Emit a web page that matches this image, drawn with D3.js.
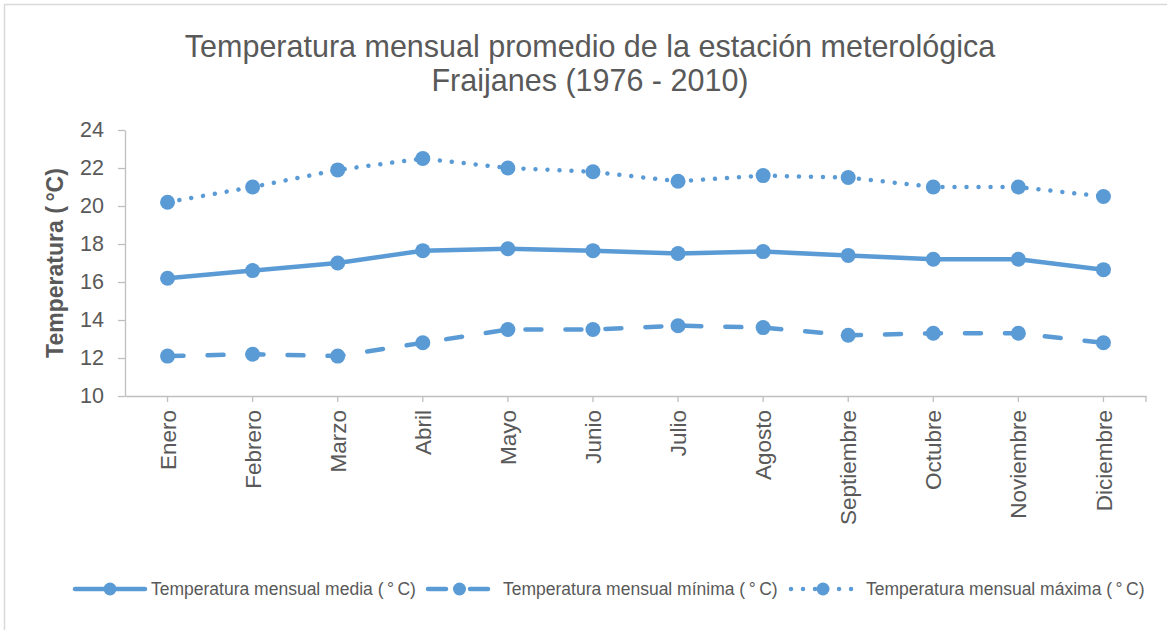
<!DOCTYPE html>
<html lang="es">
  <head>
    <meta charset="UTF-8" />
    <script src="https://cdn.jsdelivr.net/npm/d3@7/dist/d3.min.js"></script>
    <style>
      body {
        margin: 0;
        background: #fff;
        font-family: "Liberation Sans", Arial, sans-serif;
      }
      .axis text {
        fill: #595959;
        font-family: "Liberation Sans", Arial, sans-serif;
      }
      .axis path,
      .axis line {
        stroke: #bfbfbf;
        stroke-width: 1.3px;
      }
    </style>
    <title>Temperatura mensual promedio Fraijanes</title>
  </head>
  <body>
    <div class="canvas"></div>
    <script>
      // datos
      const months = [
        "Enero", "Febrero", "Marzo", "Abril", "Mayo", "Junio",
        "Julio", "Agosto", "Septiembre", "Octubre", "Noviembre", "Diciembre",
      ];
      const tMedia = [16.2, 16.6, 17.0, 17.65, 17.75, 17.65, 17.5, 17.6, 17.4, 17.2, 17.2, 16.65];
      const tMinima = [12.1, 12.2, 12.1, 12.8, 13.5, 13.5, 13.7, 13.6, 13.2, 13.3, 13.3, 12.8];
      const tMaxima = [20.2, 21.0, 21.9, 22.5, 22.0, 21.8, 21.3, 21.6, 21.5, 21.0, 21.0, 20.5];
      const yTicks = [10, 12, 14, 16, 18, 20, 22, 24];
      const seriesNames = [
        "Temperatura mensual media (\u2009°\u2009C)",
        "Temperatura mensual mínima (\u2009°\u2009C)",
        "Temperatura mensual máxima (\u2009°\u2009C)",
      ];

      const W = 1167, H = 630;
      const color = "#5b9bd5";
      const plot = { left: 125, right: 1146, top: 130, bottom: 396 };

      const svg = d3.select(".canvas").append("svg")
        .attr("width", W).attr("height", H);

      // marco del grafico (solo se ven arriba e izquierda)
      svg.append("rect")
        .attr("x", 4.5).attr("y", 4.5)
        .attr("width", W + 20).attr("height", H + 20)
        .attr("fill", "none").attr("stroke", "#d9d9d9").attr("stroke-width", 1.5);

      const x = d3.scaleBand().domain(months).range([plot.left, plot.right]);
      const y = d3.scaleLinear().domain([10, 24]).range([plot.bottom, plot.top]);
      const cx = (m) => x(m) + x.bandwidth() / 2;

      // titulo
      const title = svg.append("text")
        .attr("text-anchor", "middle")
        .attr("fill", "#595959")
        .style("font-family", "'Liberation Sans Narrow', 'Liberation Sans', sans-serif")
        .style("font-size", "30.5px");
      title.append("tspan").attr("x", 590).attr("y", 57)
        .text("Temperatura mensual promedio de la estación meterológica");
      title.append("tspan").attr("x", 590).attr("y", 91)
        .text("Fraijanes (1976 - 2010)");

      // eje y
      svg.append("g")
        .attr("class", "axis")
        .attr("transform", `translate(${plot.left},0)`)
        .call(d3.axisLeft(y).tickValues(yTicks).tickSize(7).tickSizeOuter(0).tickPadding(14))
        .call((g) => g.selectAll("text").style("font-size", "21.5px"));

      svg.append("text")
        .attr("transform", `translate(63,${(plot.top + plot.bottom) / 2}) rotate(-90)`)
        .attr("text-anchor", "middle")
        .attr("fill", "#595959")
        .style("font-size", "23px")
        .style("font-weight", "bold")
        .text("Temperatura (\u2009°C)");

      // eje x
      const xAxis = svg.append("g")
        .attr("class", "axis")
        .attr("transform", `translate(0,${plot.bottom})`)
        .call(d3.axisBottom(x).tickSize(6).tickSizeOuter(0).tickPadding(0));
      xAxis.selectAll(".tick text")
        .style("font-size", "22.5px")
        .attr("transform", "rotate(-90)")
        .attr("text-anchor", "end")
        .attr("x", -14)
        .attr("y", 0)
        .attr("dy", "0.36em");
      xAxis.append("line")
        .attr("x1", plot.right).attr("x2", plot.right)
        .attr("y1", 0).attr("y2", 6);

      // series
      const series = [
        { name: seriesNames[0], values: tMedia, dash: null },
        { name: seriesNames[1], values: tMinima, dash: "16 24" },
        { name: seriesNames[2], values: tMaxima, dash: "0.01 12" },
      ];

      const line = d3.line()
        .x((d, i) => cx(months[i]))
        .y((d) => y(d));

      const gSeries = svg.append("g")
        .selectAll("g")
        .data(series)
        .join("g");

      gSeries.append("path")
        .attr("d", (s) => line(s.values))
        .attr("fill", "none")
        .attr("stroke", color)
        .attr("stroke-width", 4.5)
        .attr("stroke-linecap", "round")
        .attr("stroke-linejoin", "round")
        .attr("stroke-dasharray", (s) => s.dash);

      gSeries.selectAll("circle")
        .data((s) => s.values)
        .join("circle")
        .attr("cx", (d, i) => cx(months[i]))
        .attr("cy", (d) => y(d))
        .attr("r", 7.5)
        .attr("fill", color);

      // leyenda
      const legendItems = [
        { name: seriesNames[0], dash: null, x0: 75, x1: 145, tx: 151 },
        { name: seriesNames[1], dash: "18 24", x0: 428, x1: 491, tx: 503 },
        { name: seriesNames[2], dash: "0.01 12", x0: 791, x1: 855, tx: 866 },
      ];
      const legendY = 589;
      const legend = svg.append("g")
        .selectAll("g")
        .data(legendItems)
        .join("g");

      legend.append("line")
        .attr("x1", (d) => d.x0).attr("x2", (d) => d.x1)
        .attr("y1", legendY).attr("y2", legendY)
        .attr("stroke", color)
        .attr("stroke-width", 4.5)
        .attr("stroke-linecap", "round")
        .attr("stroke-dasharray", (d) => d.dash);
      legend.append("circle")
        .attr("cx", (d) => (d.x0 + d.x1) / 2)
        .attr("cy", legendY)
        .attr("r", 6.5)
        .attr("fill", color);
      legend.append("text")
        .attr("x", (d) => d.tx)
        .attr("y", legendY)
        .attr("dy", "0.35em")
        .attr("fill", "#595959")
        .style("font-size", "17.5px")
        .text((d) => d.name);
    </script>
  </body>
</html>
